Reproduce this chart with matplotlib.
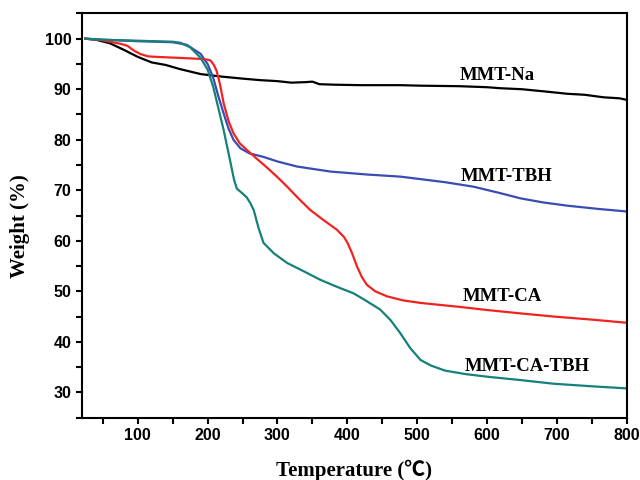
import matplotlib
matplotlib.use('Agg')
import matplotlib.pyplot as plt
from matplotlib.ticker import MultipleLocator

# MMT-Na (black)
na_t = [25, 40, 60, 80, 100, 120, 140, 160, 190, 220, 250, 275, 300, 320, 340, 350, 360,
        380, 420, 476, 505, 560, 600, 619, 650, 680, 715, 740, 767, 790, 800]
na_w = [100, 99.8, 99.1, 97.8, 96.4, 95.3, 94.8, 94.0, 93.0, 92.5, 92.1, 91.8, 91.6, 91.3,
        91.4, 91.5, 91.0, 90.9, 90.8, 90.8, 90.7, 90.6, 90.4, 90.2, 90.0, 89.6, 89.1, 88.9,
        88.4, 88.2, 87.9]

# MMT-TBH (blue)
tbh_t = [25, 50, 100, 150, 170, 190, 200, 208, 215, 223, 230, 237, 247, 260, 280, 300, 328,
         376, 430, 476, 505, 540, 581, 620, 648, 680, 715, 760, 800]
tbh_w = [100, 99.8, 99.5, 99.3, 98.8, 97.0, 95.0, 92.3, 88.8, 85.2, 82.2, 80.0, 78.3, 77.3,
         76.6, 75.7, 74.7, 73.7, 73.1, 72.7, 72.2, 71.6, 70.7, 69.4, 68.4, 67.6, 66.95, 66.3, 65.8]

# MMT-CA (red)
ca_t = [25, 45, 60, 75, 85, 95, 104, 115, 127, 160, 190, 198, 204, 209, 213, 218, 223, 230,
        237, 246, 256, 270, 285, 300, 314, 330, 347, 365, 385, 395, 400, 407, 414, 421, 428,
        440, 457, 480, 505, 562, 600, 650, 696, 750, 798]
ca_w = [100, 99.8, 99.4, 99.0, 98.6, 97.6, 96.95, 96.5, 96.4, 96.2, 96.0, 95.9, 95.7, 94.8,
        93.6, 90.8, 87.2, 83.7, 81.3, 79.3, 78.0, 76.3, 74.5, 72.6, 70.7, 68.4, 66.1, 64.2,
        62.2, 60.8, 59.7, 57.5, 54.9, 52.8, 51.3, 50.0, 49.0, 48.2, 47.7, 46.9, 46.3, 45.6,
        45.0, 44.4, 43.8]

# MMT-CA-TBH (teal)
catbh_t = [25, 50, 100, 150, 161, 175, 190, 200, 208, 215, 223, 232, 238, 242, 248, 256, 261,
           266, 273, 280, 295, 314, 340, 361, 385, 409, 425, 447, 462, 476, 490, 505, 520,
           540, 570, 600, 650, 696, 750, 798]
catbh_w = [100, 99.8, 99.6, 99.4, 99.2, 98.3, 96.2, 93.9, 90.5, 86.5, 81.9, 76.0, 72.0, 70.3,
           69.6, 68.6, 67.5, 66.1, 62.5, 59.6, 57.5, 55.6, 53.8, 52.3, 50.9, 49.6, 48.3, 46.4,
           44.3, 41.7, 38.8, 36.4, 35.3, 34.3, 33.6, 33.1, 32.4, 31.7, 31.2, 30.8]

labels = ['MMT-Na', 'MMT-TBH', 'MMT-CA', 'MMT-CA-TBH']
label_x = [615, 628, 622, 657]
label_y = [92.8, 72.8, 49.0, 35.1]

fig = plt.figure(figsize=(6.4, 4.8), dpi=100)
ax = fig.add_axes([0.128, 0.130, 0.851, 0.842])

ax.plot(na_t, na_w, color='black', lw=1.6)
ax.plot(tbh_t, tbh_w, color='#3a4cb4', lw=1.6)
ax.plot(ca_t, ca_w, color='#f2231f', lw=1.6)
ax.plot(catbh_t, catbh_w, color='#16807a', lw=1.6)

serif = ['Liberation Serif', 'Noto Sans CJK SC']
for name, x, y in zip(labels, label_x, label_y):
    ax.text(x, y, name, ha='center', va='center', fontsize=13.5,
            fontweight='bold', family=serif)

ax.set_xlim(20, 800)
ax.set_ylim(25, 105)
ax.xaxis.set_minor_locator(MultipleLocator(50))
ax.yaxis.set_minor_locator(MultipleLocator(5))
ax.set_xticks(range(100, 801, 100))
ax.set_yticks(range(30, 101, 10))

ax.tick_params(which='both', direction='out', length=4, width=1.5, top=False, right=False)
for sp in ax.spines.values():
    sp.set_linewidth(1.5)
for lab in ax.get_xticklabels() + ax.get_yticklabels():
    lab.set_family('Liberation Sans')
    lab.set_fontweight('bold')
    lab.set_fontsize(11.5)

ax.set_xlabel('Temperature (℃)', fontsize=15, fontweight='bold', family=serif, labelpad=12)
ax.set_ylabel('Weight (%)', fontsize=15, fontweight='bold', family=serif, labelpad=9)
ax.yaxis.set_label_coords(-0.095, 0.473)

fig.savefig('out.png', dpi=100)
